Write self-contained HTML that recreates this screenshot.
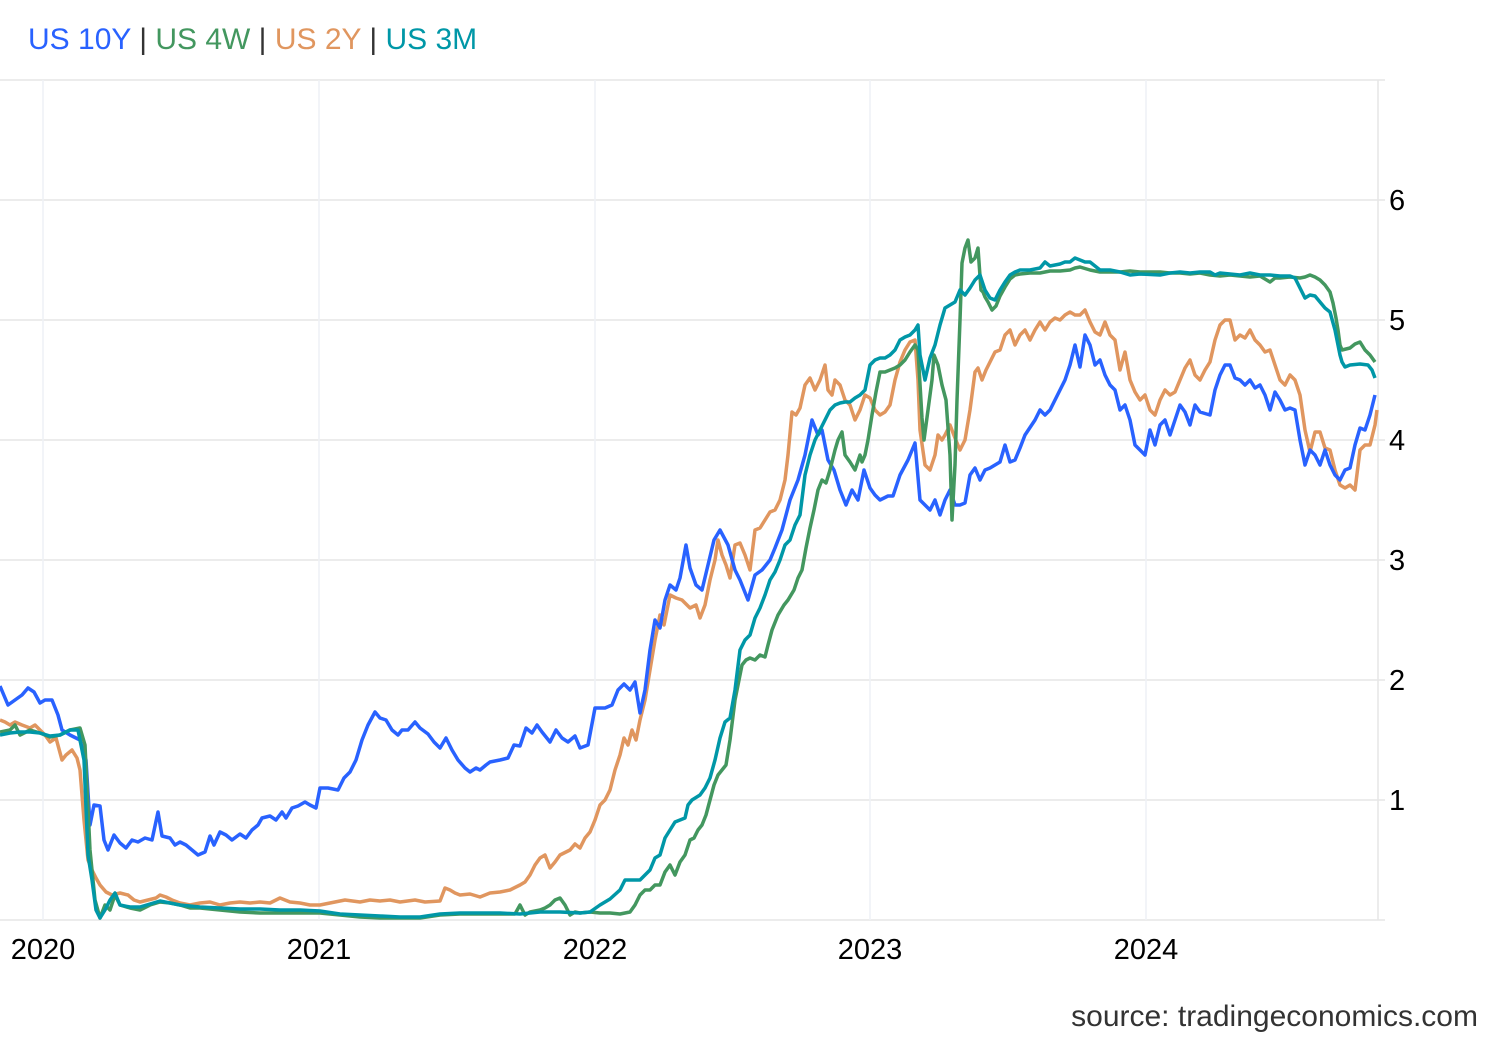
<!DOCTYPE html>
<html><head><meta charset="utf-8"><style>
html,body{margin:0;padding:0;background:#fff;}
svg{display:block;font-family:"Liberation Sans",Arial,sans-serif;}
</style></head><body>
<svg width="1500" height="1040" viewBox="0 0 1500 1040">
<g stroke="#e6e6e6" stroke-width="1.5">
<line x1="0" y1="80" x2="1385" y2="80"/>
<line x1="0" y1="200" x2="1385" y2="200"/>
<line x1="0" y1="320" x2="1385" y2="320"/>
<line x1="0" y1="440" x2="1385" y2="440"/>
<line x1="0" y1="560" x2="1385" y2="560"/>
<line x1="0" y1="680" x2="1385" y2="680"/>
<line x1="0" y1="800" x2="1385" y2="800"/>
<line x1="0" y1="920" x2="1385" y2="920"/>
<line x1="1378" y1="80" x2="1378" y2="920"/>
</g>
<g stroke="#eef1f5" stroke-width="1.5">
<line x1="43" y1="80" x2="43" y2="920"/>
<line x1="319" y1="80" x2="319" y2="920"/>
<line x1="595" y1="80" x2="595" y2="920"/>
<line x1="870" y1="80" x2="870" y2="920"/>
<line x1="1146" y1="80" x2="1146" y2="920"/>
</g>
<g fill="none" stroke-width="3.5" stroke-linejoin="round">
<polyline stroke="#e0965f" points="0,720 5,722 10,725 15,722 22,725 30,728 35,725 40,730 45,735 50,742 56,738 62,760 66,755 72,750 77,758 80,770 84,820 88,860 92,870 96,878 100,885 106,892 112,895 120,893 128,895 134,900 140,902 148,900 156,898 160,895 166,897 172,900 180,903 190,905 200,903 210,902 220,905 230,903 240,902 250,903 260,902 270,903 280,898 290,902 300,903 310,905 320,905 330,903 345,900 360,902 370,900 380,901 390,900 400,902 415,900 425,902 440,901 445,888 450,890 455,893 460,895 470,894 480,897 490,893 500,892 510,890 520,885 525,882 530,875 535,865 540,858 545,855 550,868 555,862 560,855 570,850 575,844 580,848 585,838 590,832 595,820 600,805 605,800 610,790 615,770 620,755 624,738 628,745 632,730 636,740 640,720 645,700 650,670 655,640 660,615 664,625 670,595 676,598 682,600 690,608 696,605 700,618 705,605 710,580 715,560 718,540 722,555 726,565 730,578 735,545 740,543 745,555 750,570 755,530 760,528 765,520 770,512 775,510 780,500 785,480 788,455 792,412 796,415 800,408 805,385 810,378 815,390 820,380 825,365 828,390 832,395 835,380 840,385 845,400 850,405 855,420 860,410 865,395 870,398 875,410 880,415 885,412 890,405 895,380 900,362 905,350 910,342 915,340 918,380 920,430 925,465 930,470 935,455 938,435 942,440 945,435 950,425 955,438 960,450 965,440 970,410 975,372 978,368 982,380 986,370 990,362 995,352 1000,350 1005,335 1010,330 1015,345 1020,335 1025,330 1030,340 1035,330 1040,322 1045,330 1050,322 1055,318 1060,320 1065,315 1070,312 1075,315 1080,315 1085,310 1090,322 1095,332 1100,335 1105,322 1110,335 1115,340 1120,370 1125,352 1130,380 1135,392 1140,400 1145,395 1150,410 1155,415 1160,400 1165,390 1170,395 1175,392 1180,380 1185,368 1190,360 1195,375 1200,380 1205,370 1210,362 1215,340 1220,325 1225,320 1230,320 1235,340 1240,335 1245,338 1250,330 1255,340 1260,345 1265,352 1270,350 1275,365 1280,380 1285,385 1290,375 1295,380 1300,395 1305,430 1310,452 1315,432 1320,432 1325,448 1330,450 1335,470 1340,485 1345,488 1350,485 1355,490 1360,450 1365,445 1370,445 1375,425 1377,410"/>
<polyline stroke="#2962ff" points="0,686 8,705 15,700 22,695 28,688 34,692 40,703 45,700 52,700 58,715 62,730 70,735 80,740 86,760 90,825 94,805 100,806 104,840 108,850 114,835 120,843 126,848 132,840 138,842 145,838 152,840 158,812 162,836 170,838 175,845 180,842 186,845 192,850 198,855 205,852 210,836 214,845 220,832 226,835 232,840 240,834 246,838 252,830 258,825 262,818 270,816 276,820 282,812 286,818 292,808 298,806 305,802 310,805 316,808 320,788 328,788 338,790 344,778 350,772 356,760 362,740 368,725 375,712 380,718 386,720 392,730 398,735 402,730 408,730 415,722 420,728 428,734 434,742 440,748 446,738 452,750 458,760 465,768 470,772 476,768 480,770 486,765 490,762 500,760 508,758 514,745 520,746 526,728 532,733 537,725 542,732 550,742 556,730 562,738 568,742 575,736 580,748 588,745 595,708 605,708 612,705 618,690 624,684 630,690 635,682 640,713 645,690 650,650 655,620 660,628 665,600 670,585 676,590 680,578 686,545 690,568 696,585 702,590 708,565 714,540 720,530 728,545 735,570 740,580 748,600 755,575 762,570 770,560 775,548 782,530 790,500 798,480 805,455 812,420 818,435 822,430 828,460 834,470 840,490 846,505 852,490 858,500 864,470 870,488 875,495 880,500 888,496 893,496 900,475 908,460 915,443 920,500 925,505 930,510 935,500 940,515 945,500 950,490 955,505 960,505 965,503 970,475 975,468 980,480 985,470 990,468 995,465 1000,462 1005,445 1010,462 1015,460 1020,448 1025,435 1035,420 1040,410 1045,415 1050,410 1055,400 1060,390 1065,380 1070,365 1075,345 1080,367 1085,335 1090,345 1095,365 1100,360 1105,375 1110,385 1115,390 1120,410 1125,405 1130,420 1135,445 1140,450 1145,455 1150,430 1155,445 1160,425 1165,420 1170,435 1175,420 1180,405 1185,412 1190,425 1195,405 1200,412 1210,415 1215,390 1220,375 1225,365 1230,365 1235,378 1240,380 1245,385 1250,380 1255,388 1260,385 1265,395 1270,410 1275,392 1280,400 1285,410 1290,408 1295,410 1300,440 1305,465 1310,450 1315,455 1320,465 1325,450 1330,465 1335,475 1340,480 1345,470 1350,468 1355,445 1360,428 1365,430 1370,415 1375,395"/>
<polyline stroke="#43975f" points="0,732 10,730 15,725 20,735 30,730 40,733 50,737 60,735 70,730 80,728 85,745 90,850 95,900 100,918 105,905 110,910 115,895 120,905 130,908 140,910 150,905 160,902 170,903 180,905 190,908 200,908 220,910 240,912 260,913 280,913 300,913 320,913 340,915 360,917 380,918 400,918 420,918 440,915 460,914 480,914 500,914 515,914 520,905 525,915 530,912 540,910 545,908 550,905 555,900 560,898 565,905 570,915 575,912 580,913 590,912 600,913 610,913 620,914 630,912 635,905 640,895 645,890 650,890 655,885 660,885 665,872 670,865 675,875 680,862 685,855 690,840 694,838 698,830 702,825 706,815 710,800 714,785 718,775 722,770 726,765 730,740 735,700 738,685 742,665 746,660 750,658 755,660 760,655 765,657 768,645 772,630 778,615 784,605 788,600 794,590 798,578 802,570 806,548 810,528 814,510 818,490 822,480 826,483 830,470 835,450 838,440 842,432 845,455 850,462 855,470 860,455 862,462 865,455 868,440 872,415 876,392 880,372 885,372 890,370 895,368 900,365 905,360 910,352 915,345 918,350 922,418 924,440 928,410 932,380 934,355 938,365 942,385 946,400 950,455 952,520 955,465 957,400 960,320 962,263 965,248 968,240 971,262 975,258 978,248 981,290 983,292 985,297 988,302 992,310 996,306 1000,296 1005,287 1010,279 1015,275 1020,274 1030,273 1040,273 1050,271 1060,271 1070,270 1075,268 1080,267 1090,270 1100,272 1110,272 1120,272 1130,271 1140,272 1160,272 1170,273 1180,273 1190,274 1200,273 1210,275 1220,276 1230,275 1240,276 1250,277 1260,276 1270,282 1275,278 1280,278 1290,277 1300,278 1305,277 1310,275 1315,277 1320,280 1325,285 1330,292 1333,303 1336,318 1338,330 1340,345 1342,350 1346,349 1350,348 1355,344 1360,342 1365,350 1370,355 1375,362"/>
<polyline stroke="#0097a7" points="0,735 10,733 20,732 30,732 40,733 50,736 60,735 70,730 78,730 84,760 88,855 92,880 96,910 100,918 105,910 110,900 115,893 120,905 130,907 140,907 150,904 160,901 170,903 180,905 190,906 200,907 220,908 240,909 260,909 280,910 300,910 320,911 340,914 360,915 380,916 400,917 420,917 440,914 460,913 480,913 500,913 520,914 540,912 560,912 580,913 590,912 600,905 610,899 620,890 625,880 630,880 640,880 645,875 650,870 655,858 660,855 665,838 670,830 675,822 680,820 685,818 688,805 692,800 700,795 705,788 710,778 715,760 720,738 725,722 730,718 735,690 740,650 745,640 750,635 755,618 760,608 765,595 770,580 775,572 780,560 785,545 790,540 795,525 800,515 805,475 810,455 815,440 820,430 825,420 830,410 835,405 840,403 845,402 850,402 855,398 860,395 865,390 870,365 875,360 880,358 885,358 890,355 895,350 900,340 905,337 910,335 915,330 918,325 920,355 925,380 930,358 935,345 940,325 945,308 950,305 955,302 960,290 965,295 970,288 975,280 980,275 985,290 990,298 995,300 1000,290 1005,282 1010,275 1015,272 1020,270 1030,270 1040,268 1045,262 1050,266 1055,265 1060,264 1065,262 1070,262 1075,258 1080,260 1085,262 1090,262 1100,270 1110,270 1120,272 1130,275 1140,274 1160,275 1170,273 1180,272 1190,273 1200,272 1210,272 1215,275 1220,273 1230,274 1240,275 1250,273 1260,275 1270,275 1280,276 1290,276 1295,278 1300,288 1305,298 1310,295 1315,296 1320,302 1325,308 1330,312 1335,330 1340,355 1342,362 1345,367 1350,365 1360,364 1368,365 1372,370 1375,378"/>
</g>
<g font-size="29" fill="#000">
<text x="1389" y="210">6</text>
<text x="1389" y="330">5</text>
<text x="1389" y="450">4</text>
<text x="1389" y="570">3</text>
<text x="1389" y="690">2</text>
<text x="1389" y="810">1</text>
<text x="43" y="959" text-anchor="middle">2020</text>
<text x="319" y="959" text-anchor="middle">2021</text>
<text x="595" y="959" text-anchor="middle">2022</text>
<text x="870" y="959" text-anchor="middle">2023</text>
<text x="1146" y="959" text-anchor="middle">2024</text>
</g>
<text x="28" y="49" font-size="30"><tspan fill="#2962ff">US 10Y</tspan><tspan fill="#333"> | </tspan><tspan fill="#43975f">US 4W</tspan><tspan fill="#333"> | </tspan><tspan fill="#e0965f">US 2Y</tspan><tspan fill="#333"> | </tspan><tspan fill="#0097a7">US 3M</tspan></text>
<text x="1478" y="1026" font-size="30" fill="#333" text-anchor="end">source: tradingeconomics.com</text>
</svg>
</body></html>
